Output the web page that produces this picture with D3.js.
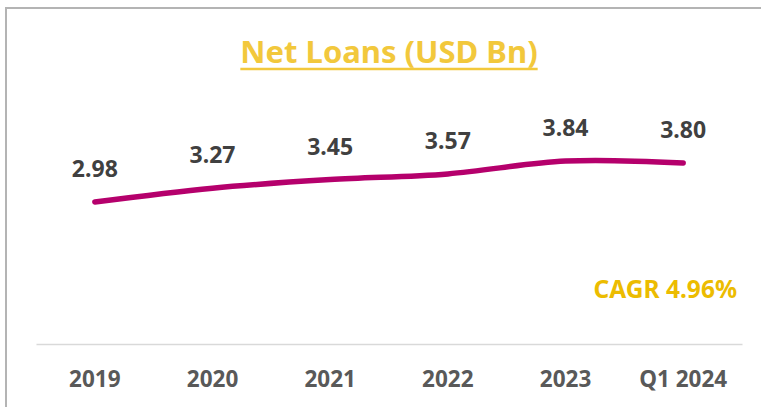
<!DOCTYPE html>
<html>
<head>
<meta charset="utf-8">
<script src="https://cdn.jsdelivr.net/npm/d3@7"></script>
<style>
  body { margin: 0; background: #fff; }
  svg { display: block; font-family: 'Noto Sans', 'Open Sans', sans-serif; font-weight: 700; }
</style>
</head>
<body>
<svg></svg>
<script>
// chart data
const categories = ['2019', '2020', '2021', '2022', '2023', 'Q1 2024']
const values = [2.98, 3.27, 3.45, 3.57, 3.84, 3.80]
const valueLabels = ['2.98', '3.27', '3.45', '3.57', '3.84', '3.80']
const title = 'Net Loans (USD Bn)'
const cagrText = 'CAGR 4.96%'

const w = 761
const h = 407

const svg = d3.select('svg')
  .attr('width', w)
  .attr('height', h)

// frame (only top and left edges are in view)
svg.append('path')
  .attr('d', `M6,${h} V8 H${w}`)
  .attr('fill', 'none')
  .attr('stroke', '#b4b4b4')
  .attr('stroke-width', 2)

// title with underline
const titleText = svg.append('text')
  .attr('x', 389)
  .attr('y', 63)
  .attr('text-anchor', 'middle')
  .style('font-size', '31px')
  .attr('fill', '#f2c83c')
  .text(title)

const tw = titleText.node().getComputedTextLength()
svg.append('line')
  .attr('x1', 389 - tw / 2)
  .attr('x2', 389 + tw / 2)
  .attr('y1', 69)
  .attr('y2', 69)
  .attr('stroke', '#f2c83c')
  .attr('stroke-width', 2.4)

// scales
const xScale = d3.scaleBand()
  .domain(categories)
  .range([36, 742])

const yScale = d3.scaleLinear()
  .domain([0, 4.5])
  .range([344, 344 - 4.5 * 47.65])

const cx = d => xScale(d) + xScale.bandwidth() / 2

// category axis
const xAxis = d3.axisBottom(xScale).tickSize(0).tickPadding(27)

const axisG = svg.append('g')
  .attr('transform', 'translate(0, 344)')
  .call(xAxis)

axisG.select('.domain')
  .attr('stroke', '#d9d9d9')
  .attr('stroke-width', 1.5)

axisG.selectAll('text')
  .attr('fill', '#595959')
  .style('font-size', '22.5px')
  .style('font-family', "'Noto Sans', sans-serif")
  .style('font-weight', 700)

// line
const line = d3.line()
  .x((d, i) => cx(categories[i]))
  .y(d => yScale(d))
  .curve(d3.curveCardinal.tension(0))

svg.append('path')
  .datum(values)
  .attr('d', line)
  .attr('fill', 'none')
  .attr('stroke', '#b5006c')
  .attr('stroke-width', 5.5)
  .attr('stroke-linecap', 'round')

// value labels
svg.selectAll('.value-label')
  .data(values)
  .enter()
  .append('text')
  .attr('class', 'value-label')
  .attr('x', (d, i) => cx(categories[i]))
  .attr('y', d => yScale(d) - 25)
  .attr('text-anchor', 'middle')
  .attr('fill', '#404040')
  .style('font-size', '23px')
  .text((d, i) => valueLabels[i])

// CAGR note
svg.append('text')
  .attr('x', 737)
  .attr('y', 298)
  .attr('text-anchor', 'end')
  .attr('fill', '#ecbc00')
  .style('font-size', '24.5px')
  .text(cagrText)
</script>
</body>
</html>
